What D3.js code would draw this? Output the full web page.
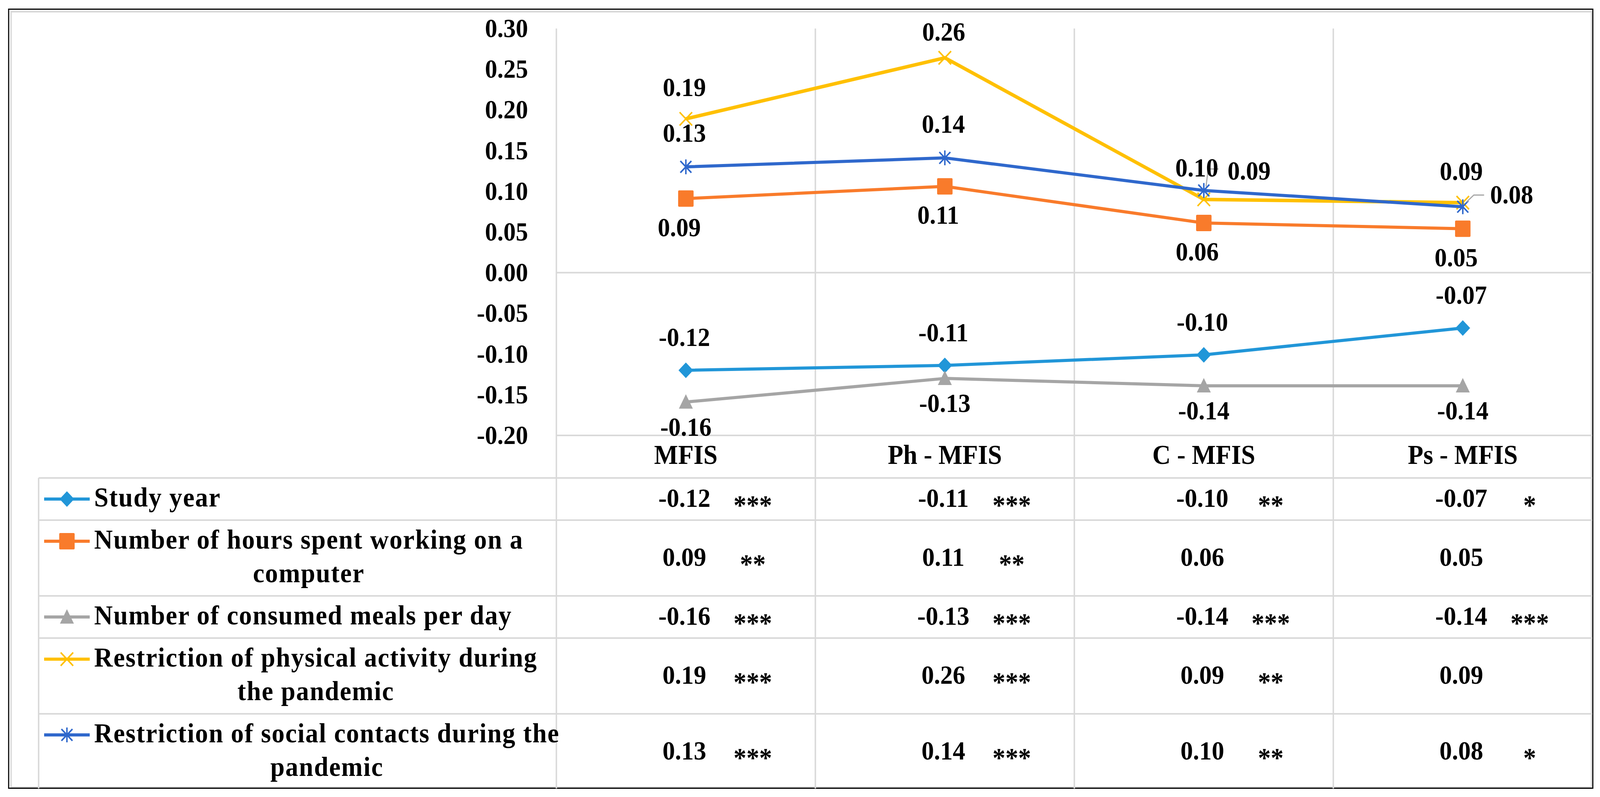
<!DOCTYPE html>
<html>
<head>
<meta charset="utf-8">
<script src="https://cdn.jsdelivr.net/npm/d3@7"></script>
<style>
  html, body { margin: 0; background: #fff; overflow: hidden; }
  svg { display: block; width: 100vw; height: 100vh; }
  text { font-family: "Liberation Serif", "Times New Roman", serif; font-weight: bold; fill: #000; }
</style>
</head>
<body>
<svg id="chart"></svg>
<script>
// categories and series
const categories = ['MFIS', 'Ph - MFIS', 'C - MFIS', 'Ps - MFIS'];
const seriesNames = [
  ['Study year'],
  ['Number of hours spent working on a', 'computer'],
  ['Number of consumed meals per day'],
  ['Restriction of physical activity during', 'the pandemic'],
  ['Restriction of social contacts during the', 'pandemic']
];
const studyYear = [-0.120, -0.114, -0.101, -0.068];
const hoursComputer = [0.091, 0.106, 0.061, 0.054];
const mealsPerDay = [-0.159, -0.130, -0.139, -0.139];
const physicalRestriction = [0.189, 0.264, 0.090, 0.086];
const socialRestriction = [0.130, 0.141, 0.101, 0.081];

const studyYearStars = ['***', '***', '**', '*'];
const hoursComputerStars = ['**', '**', '', ''];
const mealsPerDayStars = ['***', '***', '***', '***'];
const physicalRestrictionStars = ['***', '***', '**', ''];
const socialRestrictionStars = ['***', '***', '**', '*'];

const yTicks = [-0.20, -0.15, -0.10, -0.05, 0.00, 0.05, 0.10, 0.15, 0.20, 0.25, 0.30];

const seriesValues = [studyYear, hoursComputer, mealsPerDay, physicalRestriction, socialRestriction];
const seriesStars = [studyYearStars, hoursComputerStars, mealsPerDayStars, physicalRestrictionStars, socialRestrictionStars];
const colors = ['#2196D8', '#F97B2B', '#A5A5A5', '#FFC000', '#2F68CC'];
const markers = ['diamond', 'square', 'triangle', 'x', 'asterisk'];

// label placement (dx, dy from the point)
const labelOffset = [[-4, -84], [-18, 74], [0, 64], [-4, -80], [-4, -86]];
const labelOverride = { '3-1': [-3, -66], '3-2': [123, -73], '4-2': [-19, -58], '4-3': [133, -30] };

const W = 4351, H = 2041;
const svg = d3.select('#chart').attr('viewBox', `0 0 ${W} ${H}`).attr('preserveAspectRatio', 'none');

const x = d3.scaleBand().domain(categories).range([1513, 4330]);
const y = d3.scaleLinear().domain([-0.2, 0.3]).range([1115, 73]);
const cx = c => x(c) + x.bandwidth() / 2;
const fmt = v => v.toFixed(2);

const grid = '#D9D9D9';
const tableTop = 1224, tableLeft = 105, tableRight = 4330, bottom = 2019;

// frame
svg.append('rect').attr('x', 30).attr('y', 30).attr('width', 4298).attr('height', 1986)
  .attr('fill', 'none').attr('stroke', grid).attr('stroke-width', 4);
svg.append('rect').attr('x', 23.5).attr('y', 23.5).attr('width', 4308).attr('height', 1995)
  .attr('fill', 'none').attr('stroke', '#000').attr('stroke-width', 3);

// vertical grid lines
svg.append('g').selectAll('line').data(categories).join('line')
  .attr('x1', d => x(d)).attr('x2', d => x(d))
  .attr('y1', y(0.3)).attr('y2', bottom)
  .attr('stroke', grid).attr('stroke-width', 4);

// horizontal lines: zero line and bottom of plot
svg.append('g').selectAll('line').data([0, -0.2]).join('line')
  .attr('x1', 1513).attr('x2', tableRight)
  .attr('y1', d => y(d)).attr('y2', d => y(d))
  .attr('stroke', grid).attr('stroke-width', 4);

// y axis
const yAxis = svg.append('g').attr('transform', 'translate(1446,0)')
  .call(d3.axisLeft(y).tickValues(yTicks).tickFormat(fmt).tickSize(0).tickPadding(10));
yAxis.select('.domain').remove();
yAxis.selectAll('text').attr('font-family', null).style('font-size', '67px');

// category labels
svg.append('g').selectAll('text').data(categories).join('text')
  .attr('x', d => cx(d)).attr('y', 1188)
  .attr('text-anchor', 'middle').style('font-size', '69px')
  .text(d => d);

// marker drawing
function drawMarker(g, type, color) {
  if (type === 'diamond') {
    g.append('path').attr('d', 'M0,-20L20,0L0,20L-20,0Z').attr('fill', color);
  } else if (type === 'square') {
    g.append('rect').attr('x', -21).attr('y', -21).attr('width', 42).attr('height', 42).attr('rx', 3).attr('fill', color);
  } else if (type === 'triangle') {
    g.append('path').attr('d', 'M0,-20L19,17L-19,17Z').attr('fill', color);
  } else if (type === 'x') {
    g.append('path').attr('d', 'M-17,-17L17,17M-17,17L17,-17').attr('stroke', color).attr('stroke-width', 4);
  } else {
    g.append('path').attr('d', 'M-15,-15L15,15M-15,15L15,-15M0,-19L0,19').attr('stroke', color).attr('stroke-width', 4);
  }
}

// series lines
const line = d3.line().x((d, i) => cx(categories[i])).y(d => y(d));
seriesValues.forEach((vals, s) => {
  const g = svg.append('g');
  g.append('path').datum(vals).attr('d', line)
    .attr('fill', 'none').attr('stroke', colors[s]).attr('stroke-width', s === 3 ? 9 : 8)
    .attr('stroke-linejoin', 'round');
  vals.forEach((v, i) => {
    drawMarker(g.append('g').attr('transform', `translate(${cx(categories[i])},${y(v)})`), markers[s], colors[s]);
  });
});

// leader lines for crowded labels
const leaders = { '4-2': [[6, -10], [12, -55], [40, -55]], '4-3': [[10, -12], [30, -30], [58, -30]] };
Object.keys(leaders).forEach(k => {
  const [s, i] = k.split('-').map(Number);
  const px = cx(categories[i]), py = y(seriesValues[s][i]);
  svg.append('polyline')
    .attr('points', leaders[k].map(p => `${px + p[0]},${py + p[1]}`).join(' '))
    .attr('fill', 'none').attr('stroke', '#A6A6A6').attr('stroke-width', 3);
});

// data labels
seriesValues.forEach((vals, s) => {
  vals.forEach((v, i) => {
    const off = labelOverride[`${s}-${i}`] || labelOffset[s];
    svg.append('text')
      .attr('x', cx(categories[i]) + off[0])
      .attr('y', y(v) + off[1] + 22)
      .attr('text-anchor', 'middle').style('font-size', '67px')
      .text(fmt(v));
  });
});

// data table
const lineGap = 86;
let rowY = tableTop;
const rows = seriesNames.map(lines => {
  const h = 22 + lineGap * lines.length;
  const r = { top: rowY, h: h };
  rowY += h;
  return r;
});

svg.append('g').selectAll('line').data(rows).join('line')
  .attr('x1', tableLeft).attr('x2', tableRight)
  .attr('y1', d => d.top).attr('y2', d => d.top)
  .attr('stroke', grid).attr('stroke-width', 4);
svg.append('line').attr('x1', tableLeft).attr('x2', tableLeft)
  .attr('y1', tableTop).attr('y2', bottom).attr('stroke', grid).attr('stroke-width', 4);

seriesNames.forEach((lines, s) => {
  const r = rows[s];
  const mid = r.top + r.h / 2 - 4;
  const firstY = mid - (lines.length - 1) * lineGap / 2;
  // legend key
  const key = svg.append('g').attr('transform', `translate(0,${firstY + 4})`);
  key.append('line').attr('x1', 120).attr('x2', 244).attr('stroke', colors[s]).attr('stroke-width', 8);
  drawMarker(key.append('g').attr('transform', 'translate(182,0)'), markers[s], colors[s]);
  // legend text
  const first = svg.append('text').attr('x', 256).attr('y', firstY + 23)
    .style('font-size', '70px').style('letter-spacing', '2px').text(lines[0]);
  const w = first.node().getComputedTextLength();
  lines.slice(1).forEach((t, k) => {
    svg.append('text').attr('x', 256 + w / 2).attr('y', firstY + lineGap * (k + 1) + 23)
      .attr('text-anchor', 'middle').style('font-size', '70px').style('letter-spacing', '2px').text(t);
  });
  // values and significance stars
  categories.forEach((c, i) => {
    svg.append('text').attr('x', cx(c) - 4).attr('y', mid + 1 + 23)
      .attr('text-anchor', 'middle').style('font-size', '68px').text(fmt(seriesValues[s][i]));
    svg.append('text').attr('x', cx(c) + 182).attr('y', mid + 10 + 33)
      .attr('text-anchor', 'middle').style('font-size', '70px').text(seriesStars[s][i]);
  });
});
</script>
</body>
</html>
